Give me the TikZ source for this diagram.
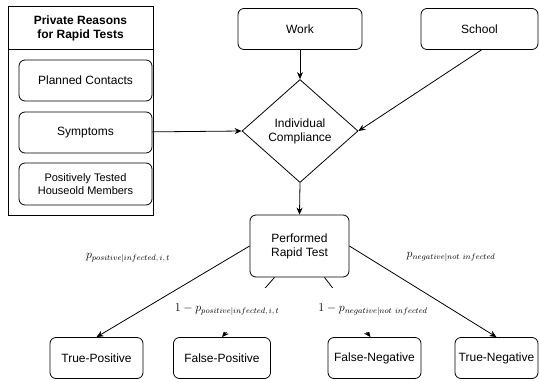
\documentclass[tikz,border=0pt]{standalone}
\usepackage{fontspec}
\setmainfont{Liberation Sans}
\usepackage{tikz}
\usetikzlibrary{arrows.meta,positioning,shapes.geometric,calc}

\begin{document}
\begin{tikzpicture}[x=1pt, y=-1pt, line width=0.8pt, font=\fontsize{12}{14}\selectfont]
    \tikzstyle{event} = [rectangle, rounded corners=6pt, draw, align=center,
                         minimum height=41pt, inner sep=2pt]
    \tikzstyle{decision} = [diamond, draw, align=center, inner sep=0pt,
                            minimum width=116pt, minimum height=103pt]
    \tikzstyle{prob} = [fill=white, inner sep=1pt, font=\fontsize{12}{14}\selectfont]
    \tikzstyle{flow} = [-{Stealth[length=7pt, width=6pt]}]

    \useasboundingbox (0,0) rectangle (539,381);

    % Private reasons container
    \node[draw, rectangle, minimum width=145pt, minimum height=209pt, inner sep=0pt] (reasons) at (80.5,110.5) {};
    \node[font=\fontsize{12}{14}\selectfont\bfseries, align=center] (reasonstitle) at (80.5,28) {Private Reasons\\for Rapid Tests};
    \coordinate (hl) at ($(reasons.north west)+(0,44)$);
    \coordinate (hr) at ($(reasons.north east)+(0,44)$);
    \draw (hl) -- (hr);
    \node[event, minimum width=133pt] (plan) at (85.5,80.5) {Planned Contacts};
    \node[event, minimum width=133pt] (symp) at (85.5,132.5) {Symptoms};
    \node[event, minimum width=133pt, minimum height=42pt, font=\fontsize{11}{13}\selectfont] (house) at (85.5,184) {Positively Tested\\Houseold Members};

    % Settings
    \node[event, minimum width=124pt] (work) at (300,29) {Work};
    \node[event, minimum width=117pt] (school) at (479.5,29) {School};

    % Compliance and test
    \node[decision] (comp) at (300,131) {Individual\\Compliance};
    \node[event, minimum width=99pt, minimum height=62pt] (test) at (299.5,246) {Performed\\Rapid Test};

    % Outcomes
    \node[event, minimum width=93pt] (tp) at (96.5,358) {True-Positive};
    \node[event, minimum width=97pt] (fp) at (222,358) {False-Positive};
    \node[event, minimum width=93pt] (fn) at (374.5,358) {False-Negative};
    \node[event, minimum width=83pt] (tn) at (496.5,358) {True-Negative};

    % Flow arrows
    \draw[flow] (work) -- (comp.north);
    \draw[flow] (symp) -- (comp.west);
    \draw[flow] ([xshift=2pt]school.south) -- (comp.east);
    \draw[flow] (comp.south) -- (test.north);
    \draw[flow] ([xshift=-25pt]test.south) -- (fp.north);
    \draw[flow] ([xshift=25pt]test.south) -- ([xshift=-4pt]fn.north);

    % Probabilities
    \node[prob] (ptp) at (128,258) {$p_{positive|infected,\,i,\,t}$};
    \node[prob] (ptn) at (451,257) {$p_{negative|not\ infected}$};
    \node[prob, minimum height=44pt] (pfp) at (227,310) {$1-p_{positive|infected,\,i,\,t}$};
    \node[prob, minimum height=44pt] (pfn) at (373,310) {$1-p_{negative|not\ infected}$};

    % Outer branches
    \draw[flow] (test.west) -- (tp.north);
    \draw[flow] (test.east) -- (tn.north);
\end{tikzpicture}
\end{document}
